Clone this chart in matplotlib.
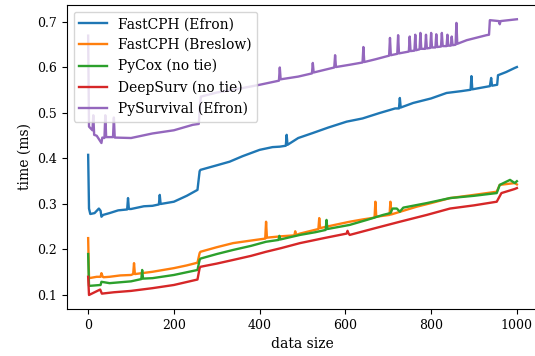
import matplotlib
matplotlib.use("Agg")
import matplotlib.pyplot as plt

plt.rcParams['font.family'] = ['DejaVu Serif']
plt.rcParams['font.size'] = 10

# values (data size -> time in ms)
efron_x = [0, 2, 5, 15, 25, 29, 31, 35, 50, 70, 91, 93, 95, 100, 130, 150, 165, 167, 169, 200, 230,
           255, 260, 262, 300, 330, 360, 400, 430, 447, 461, 463, 465, 490, 524, 560, 603, 640, 680,
           716, 725, 727, 729, 758, 800, 836, 870, 892, 894, 896, 937, 940, 942, 954, 956, 975, 995,
           1000]
efron_y = [0.408, 0.29, 0.278, 0.28, 0.29, 0.285, 0.272, 0.276, 0.28, 0.286, 0.288, 0.313, 0.289,
           0.289, 0.295, 0.296, 0.299, 0.32, 0.3, 0.305, 0.318, 0.331, 0.372, 0.375, 0.385, 0.393,
           0.405, 0.419, 0.425, 0.426, 0.428, 0.452, 0.43, 0.445, 0.456, 0.468, 0.481, 0.488, 0.50,
           0.51, 0.51, 0.533, 0.512, 0.522, 0.532, 0.544, 0.548, 0.551, 0.581, 0.552, 0.559, 0.577,
           0.56, 0.562, 0.583, 0.59, 0.599, 0.601]

breslow_x = [0, 2, 20, 29, 31, 34, 36, 50, 75, 100, 105, 107, 109, 150, 200, 230, 255, 260, 262,
             300, 338, 375, 413, 415, 417, 450, 481, 483, 485, 494, 537, 539, 541, 575, 610, 640, 668,
             670, 672, 703, 705, 707, 766, 800, 844, 900, 953, 960, 995, 1000]
breslow_y = [0.225, 0.137, 0.14, 0.14, 0.148, 0.14, 0.139, 0.14, 0.143, 0.144, 0.146, 0.17, 0.146,
             0.151, 0.159, 0.165, 0.171, 0.192, 0.195, 0.205, 0.214, 0.219, 0.224, 0.261, 0.226,
             0.229, 0.231, 0.24, 0.232, 0.235, 0.245, 0.269, 0.247, 0.254, 0.261, 0.266, 0.27, 0.305,
             0.272, 0.276, 0.305, 0.277, 0.294, 0.302, 0.313, 0.32, 0.327, 0.342, 0.346, 0.343]

pycox_x = [0, 2, 29, 31, 50, 100, 124, 126, 128, 150, 200, 255, 260, 262, 300, 338, 380, 415, 444,
           446, 448, 494, 530, 554, 556, 558, 610, 650, 688, 705, 710, 720, 727, 735, 790, 844, 900,
           953, 960, 984, 995, 1000]
pycox_y = [0.19, 0.12, 0.122, 0.129, 0.126, 0.13, 0.135, 0.155, 0.136, 0.137, 0.144, 0.155, 0.177,
           0.18, 0.19, 0.199, 0.208, 0.217, 0.221, 0.23, 0.222, 0.232, 0.238, 0.243, 0.265, 0.245,
           0.254, 0.265, 0.276, 0.28, 0.29, 0.29, 0.283, 0.292, 0.302, 0.313, 0.318, 0.324, 0.342,
           0.353, 0.346, 0.35]

deepsurv_x = [0, 2, 28, 32, 60, 100, 150, 200, 255, 260, 262, 300, 338, 380, 415, 450, 494, 550,
              603, 605, 607, 610, 670, 727, 790, 844, 900, 953, 964, 995, 1000]
deepsurv_y = [0.14, 0.10, 0.112, 0.103, 0.106, 0.109, 0.115, 0.122, 0.134, 0.159, 0.162, 0.169,
              0.177, 0.186, 0.195, 0.203, 0.214, 0.225, 0.235, 0.241, 0.236, 0.232, 0.247, 0.261,
              0.276, 0.29, 0.297, 0.305, 0.324, 0.333, 0.335]

pysurv_x = [0, 2, 10, 12, 14, 20, 31, 33, 38, 40, 42, 58, 60, 62, 100, 150, 200, 244, 258, 261, 263,
            300, 350, 400, 445, 447, 449, 490, 522, 524, 526, 574, 576, 578, 610, 640, 642, 644, 670,
            702, 704, 706, 721, 723, 725, 748, 750, 752, 761, 763, 765, 773, 775, 777, 786, 788, 790,
            798, 800, 802, 810, 812, 814, 823, 825, 827, 836, 838, 840, 846, 848, 850, 857, 859, 861,
            883, 929, 935, 937, 958, 960, 962, 1000]
pysurv_y = [0.67, 0.47, 0.462, 0.495, 0.452, 0.45, 0.434, 0.446, 0.445, 0.495, 0.447, 0.447, 0.49,
            0.446, 0.445, 0.455, 0.462, 0.474, 0.476, 0.518, 0.536, 0.545, 0.553, 0.562, 0.571, 0.60,
            0.574, 0.58, 0.587, 0.61, 0.589, 0.60, 0.627, 0.601, 0.606, 0.611, 0.645, 0.612, 0.618,
            0.626, 0.665, 0.627, 0.63, 0.671, 0.631, 0.635, 0.668, 0.636, 0.637, 0.672, 0.638, 0.64,
            0.676, 0.641, 0.641, 0.672, 0.642, 0.643, 0.676, 0.644, 0.644, 0.673, 0.645, 0.646,
            0.676, 0.647, 0.647, 0.672, 0.648, 0.648, 0.668, 0.649, 0.65, 0.698, 0.652, 0.660, 0.671,
            0.672, 0.704, 0.702, 0.695, 0.702, 0.706]

fig = plt.figure(figsize=(5.35, 3.56), dpi=100)
ax = fig.add_axes([0.1247, 0.132, 0.8815, 0.8548])
ax.plot(efron_x, efron_y, lw=1.7, label="FastCPH (Efron)")
ax.plot(breslow_x, breslow_y, lw=1.7, label="FastCPH (Breslow)")
ax.plot(pycox_x, pycox_y, lw=1.7, label="PyCox (no tie)")
ax.plot(deepsurv_x, deepsurv_y, lw=1.7, label="DeepSurv (no tie)")
ax.plot(pysurv_x, pysurv_y, lw=1.7, label="PySurvival (Efron)")
ax.set_xlim(-50, 1050)
ax.set_ylim(0.0692, 0.738)
ax.tick_params(labelsize=9)
ax.set_xlabel("data size")
ax.set_ylabel("time (ms)")
ax.legend(loc="upper left")
fig.savefig("out.png", dpi=100)
